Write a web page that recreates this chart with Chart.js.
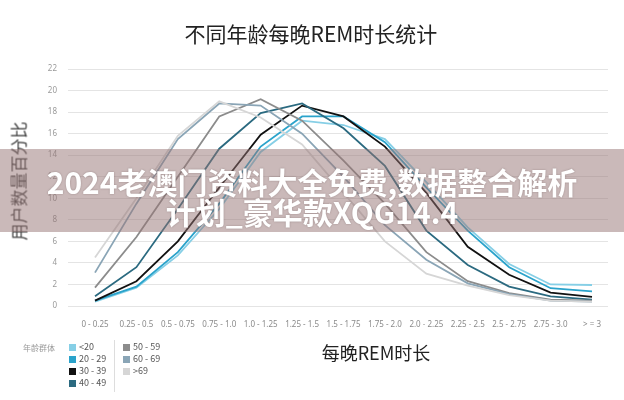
<!DOCTYPE html>
<html>
<head>
<meta charset="utf-8">
<script src="https://cdn.jsdelivr.net/npm/chart.js@4.4.1/dist/chart.umd.min.js"></script>
<style>
  html, body { margin:0; padding:0; background:#fff; }
  #wrap { position:relative; width:624px; height:400px; overflow:hidden; font-family:"Noto Sans CJK SC","Noto Sans",sans-serif; }
  canvas { position:absolute; left:0; top:0; }
  .abs { position:absolute; white-space:nowrap; }
  #title { left:0; width:622px; top:20px; text-align:center; font-size:21px; color:#222; line-height:26px; }
  #ytitle { left:18px; top:181px; transform:translate(-50%,-50%) rotate(-90deg); font-size:17px; color:#444; }
  #xtitle { left:376px; top:352px; transform:translate(-50%,-50%); font-size:18px; color:#222; }
  #lgtitle { left:23px; top:342px; font-size:8px; color:#999; }
  .lg { font-size:9px; color:#555; line-height:12px; }
  .lg span.box { display:inline-block; width:7px; height:7px; margin-right:3px; vertical-align:-0.5px; }
  #sep { left:114px; top:340px; width:1px; height:52px; background:#ddd; }
  #banner { left:0; top:149px; width:624px; height:83px; background:rgba(150,115,115,0.5); }
  #btext { left:0; width:624px; top:166px; text-align:center; color:#fff; font-weight:bold; font-size:30px; line-height:30px; text-shadow:0 0 2px rgba(60,40,40,0.35); }
</style>
</head>
<body>
<div id="wrap">
  <canvas id="c" width="624" height="400"></canvas>
  <div id="title" class="abs">不同年龄每晚REM时长统计</div>
  <div id="ytitle" class="abs">用户数量百分比</div>
  <div id="xtitle" class="abs">每晚REM时长</div>
  <div id="lgtitle" class="abs">年龄群体</div>
  <div id="lg1" class="abs lg" style="left:69px; top:341px;"></div>
  <div id="sep" class="abs"></div>
  <div id="lg2" class="abs lg" style="left:123px; top:341px;"></div>
  <div id="banner" class="abs"></div>
  <div id="btext" class="abs">2024老澳门资料大全免费,数据整合解析<br>计划_豪华款XQG14.4</div>
</div>
<script>
const categories = ["0 - 0.25","0.25 - 0.5","0.5 - 0.75","0.75 - 1.0","1.0 - 1.25","1.25 - 1.5","1.5 - 1.75","1.75 - 2.0","2.0 - 2.25","2.25 - 2.5","2.5 - 2.75","2.75 - 3.0","> = 3"];
const seriesNames = ["<20","20 - 29","30 - 39","40 - 49","50 - 59","60 - 69",">69"];
const seriesColors = ["#86cfe6","#2aa3cb","#111111","#2b6a80","#8c8c8c","#8aa5b6","#d6d6d6"];
const under20   = [0.4, 1.7, 4.7, 9.0, 14.3, 17.2, 16.8, 15.5, 11.5, 7.3, 3.9, 2.0, 1.95];
const age20_29  = [0.5, 1.8, 5.0, 9.5, 14.8, 17.6, 17.6, 15.2, 11.0, 7.0, 3.6, 1.65, 1.35];
const age30_39  = [0.5, 2.3, 6.0, 11.0, 15.9, 18.6, 17.6, 14.8, 10.5, 5.5, 2.9, 1.25, 0.85];
const age40_49  = [0.9, 3.6, 9.0, 14.6, 17.9, 18.8, 16.5, 13.0, 7.0, 3.8, 1.8, 0.9, 0.6];
const age50_59  = [1.7, 6.4, 12.0, 17.6, 19.2, 17.2, 13.5, 9.5, 5.0, 2.3, 1.2, 0.6, 0.5];
const age60_69  = [3.1, 9.5, 15.5, 18.8, 18.6, 16.0, 12.0, 7.5, 4.3, 2.1, 1.1, 0.5, 0.4];
const over69    = [4.5, 10.0, 15.8, 19.0, 17.5, 15.0, 10.5, 6.0, 3.0, 1.9, 1.0, 0.5, 0.4];
const yTicks = [0,2,4,6,8,10,12,14,16,18,20,22];

const allSeries = [under20, age20_29, age30_39, age40_49, age50_59, age60_69, over69];

// legend
const lg1 = document.getElementById('lg1'), lg2 = document.getElementById('lg2');
seriesNames.forEach((n,i)=>{
  const d = document.createElement('div');
  d.innerHTML = '<span class="box" style="background:'+seriesColors[i]+'"></span>' + n.replace(/</g,'&lt;').replace(/>/g,'&gt;');
  (i<4 ? lg1 : lg2).appendChild(d);
});

const datasets = allSeries.map((arr,i)=>({
  label: seriesNames[i],
  data: arr.map((v,k)=>({x:k, y:v})),
  borderColor: seriesColors[i],
  backgroundColor: seriesColors[i],
  borderWidth: 1.8,
  pointRadius: 0,
  tension: 0,
  fill: false
})).reverse();

new Chart(document.getElementById('c'), {
  type: 'line',
  data: { datasets },
  options: {
    responsive: false,
    animation: false,
    layout: { padding: { left: 0, right: 16, top: 69, bottom: 0 } },
    plugins: { legend: { display:false }, tooltip: { enabled:false }, title: { display:false } },
    scales: {
      x: {
        type: 'linear',
        min: -0.652, max: 12.386,
        afterBuildTicks: s => { s.ticks = categories.map((_,i)=>({value:i})); },
        afterFit: s => { s.height = 94; },
        grid: { display:false },
        border: { display:false },
        ticks: {
          autoSkip:false, maxRotation:0, padding: 6,
          color:'#8a8a8a', font:{ size:8, family:'"Noto Sans","DejaVu Sans",sans-serif' },
          callback: v => categories[v] ?? ''
        }
      },
      y: {
        min: 0, max: 22,
        afterBuildTicks: s => { s.ticks = yTicks.map(v=>({value:v})); },
        afterFit: s => { s.width = 68; },
        grid: { color:'#e4e4e4', drawTicks:false, lineWidth:1 },
        border: { display:false },
        ticks: { padding: 11, color:'#9a9a9a', font:{ size:8, family:'"Noto Sans","DejaVu Sans",sans-serif' } }
      }
    }
  }
});
</script>
</body>
</html>
